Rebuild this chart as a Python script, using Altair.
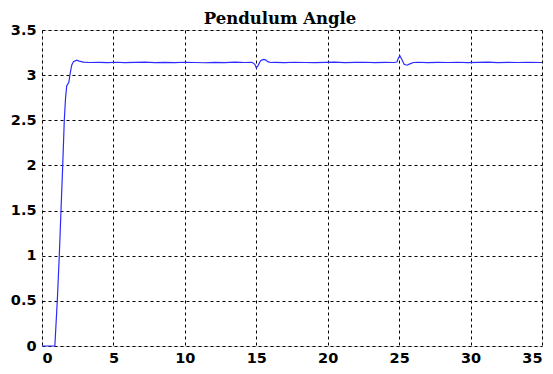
import altair as alt
import pandas as pd

time_s = [0, 0.9, 1.07, 1.21, 1.33, 1.45, 1.56, 1.65, 1.73, 1.8, 1.88, 1.95, 2.08, 2.2, 2.43, 2.6,
          2.9, 3.3, 4.0, 4.6, 5.2, 5.8, 6.5, 7.2, 7.9, 8.6, 9.3, 10.0, 10.7, 11.4, 12.1, 12.8,
          13.5, 14.2, 14.7, 14.9, 15.0, 15.1, 15.3, 15.5, 15.65, 15.8, 16.0, 16.3, 17.0, 17.7,
          18.4, 19.1, 19.8, 20.5, 21.2, 21.9, 22.6, 23.3, 24.0, 24.6, 24.85, 24.95, 25.05, 25.2,
          25.35, 25.55, 25.75, 26.0, 26.3, 27.0, 27.7, 28.4, 29.1, 29.8, 30.5, 31.2, 31.9, 32.6,
          33.3, 34.0, 35.0]
angle = [0, 0, 0.5, 1.0, 1.5, 2.0, 2.5, 2.75, 2.88, 2.9, 2.92, 3.0, 3.11, 3.15, 3.165, 3.155,
         3.145, 3.14, 3.142, 3.138, 3.143, 3.139, 3.141, 3.144, 3.138, 3.142, 3.139, 3.143, 3.14, 3.137,
         3.142, 3.139, 3.144, 3.14, 3.142, 3.12, 3.08, 3.1, 3.16, 3.175, 3.17, 3.15, 3.14, 3.142,
         3.139, 3.143, 3.14, 3.138, 3.142, 3.144, 3.139, 3.141, 3.143, 3.138, 3.142, 3.14, 3.145,
         3.19, 3.215, 3.17, 3.12, 3.11, 3.125, 3.14, 3.143, 3.139, 3.142, 3.14, 3.143, 3.138,
         3.141, 3.144, 3.139, 3.142, 3.14, 3.141, 3.14]

x_ticks = [0, 5, 10, 15, 20, 25, 30, 35]
y_ticks = [0, 0.5, 1, 1.5, 2, 2.5, 3, 3.5]

df = pd.DataFrame({"t": time_s, "angle": angle})

axis_common = dict(
    domain=False,
    ticks=False,
    grid=True,
    gridColor="black",
    gridDash=[3, 3],
    gridWidth=1,
    gridOpacity=1,
    labelFont="DejaVu Sans",
    labelFontWeight="bold",
    labelFontSize=14.5,
    labelColor="black",
    title=None,
)

chart = alt.Chart(df).mark_line(color="#2b2bff", strokeWidth=1.2, interpolate="linear").encode(
    x=alt.X("t:Q", scale=alt.Scale(domain=[0, 35], nice=False),
            axis=alt.Axis(values=x_ticks, labelPadding=5, **axis_common)),
    y=alt.Y("angle:Q", scale=alt.Scale(domain=[0, 3.5], nice=False, zero=False),
            axis=alt.Axis(values=y_ticks, labelPadding=6, format=".1~f", **axis_common)),
).properties(
    width=500,
    height=316,
    title=alt.TitleParams("Pendulum Angle", font="DejaVu Serif", fontSize=16.5,
                          fontWeight="bold", color="black", anchor="middle", offset=-5, dx=-12),
    autosize=alt.AutoSizeParams(type="none"),
    padding={"left": 34, "top": 22, "right": 3, "bottom": 20},
).configure_view(
    stroke="#555555", strokeWidth=2
).configure(background="white")

chart.save("out.html", embed_options={"renderer": "svg", "actions": False})
